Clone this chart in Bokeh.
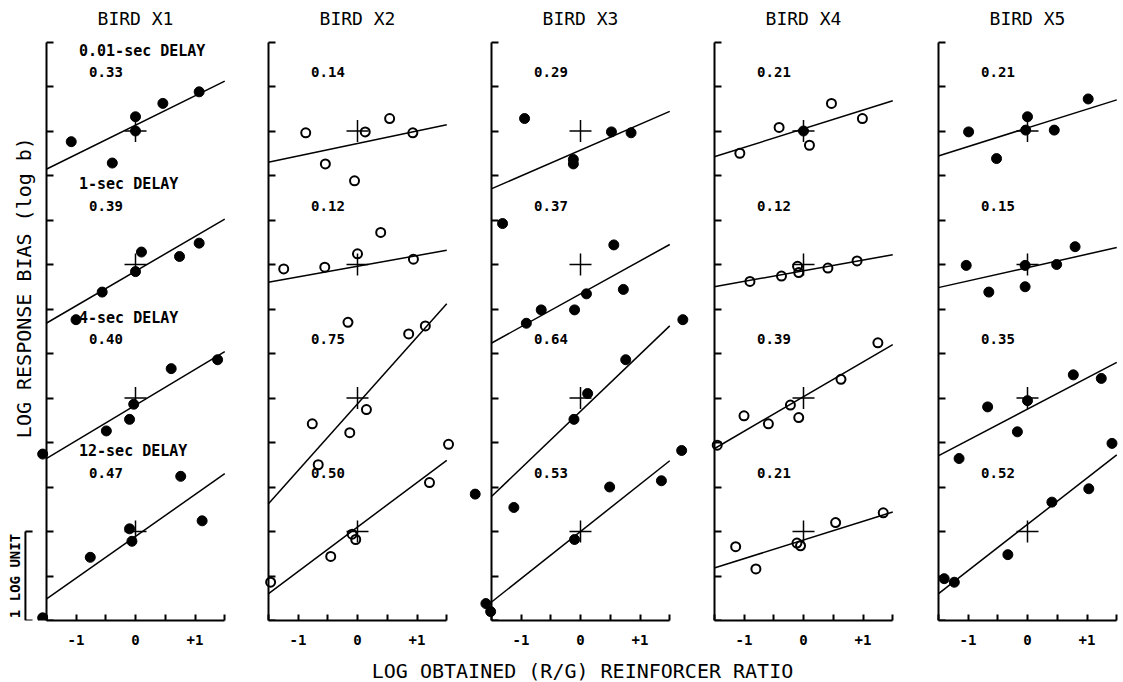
from bokeh.plotting import figure
from bokeh.layouts import row, column
from bokeh.models import LinearAxis, FixedTicker, Label, Range1d, CustomJSTickFormatter
from bokeh.embed import file_html
from bokeh.resources import INLINE

# ---------------- data ----------------
birds = ["BIRD X1", "BIRD X2", "BIRD X3", "BIRD X4", "BIRD X5"]
delays = ["0.01-sec DELAY", "1-sec DELAY", "4-sec DELAY", "12-sec DELAY"]
offsets = [4.5, 3.0, 1.5, 0.0]          # vertical displacement of each delay condition
filled = [True, False, True, False, True]

slopes_x1 = [0.33, 0.39, 0.40, 0.47]
slopes_x2 = [0.14, 0.12, 0.75, 0.50]
slopes_x3 = [0.29, 0.37, 0.64, 0.53]
slopes_x4 = [0.21, 0.12, 0.39, 0.21]
slopes_x5 = [0.21, 0.15, 0.35, 0.52]

icpt_x1 = [0.065, -0.075, -0.08, -0.055]
icpt_x2 = [-0.14, -0.02, -0.065, 0.05]
icpt_x3 = [-0.215, -0.33, -0.15, 0.0]
icpt_x4 = [0.025, -0.07, 0.015, -0.095]
icpt_x5 = [0.035, -0.035, -0.125, 0.08]

x1_x = [[-1.08, -0.39, 0.00, 0.00, 0.46, 1.07],
        [-1.00, -0.56, 0.00, 0.10, 0.74, 1.07],
        [-1.56, -0.49, -0.10, -0.03, 0.60, 1.38],
        [-1.56, -0.76, -0.10, -0.06, 0.76, 1.12]]
x1_y = [[-0.12, -0.36, 0.16, 0.00, 0.31, 0.44],
        [-0.62, -0.31, -0.08, 0.14, 0.09, 0.24],
        [-0.63, -0.37, -0.24, -0.07, 0.33, 0.43],
        [-0.97, -0.29, 0.03, -0.11, 0.62, 0.12]]

x2_x = [[-0.87, -0.54, -0.05, 0.13, 0.54, 0.93],
        [-1.24, -0.55, 0.00, 0.39, 0.94],
        [-0.76, -0.66, -0.16, -0.13, 0.15, 0.86, 1.14],
        [-1.46, -0.45, -0.09, -0.03, 1.21, 1.53]]
x2_y = [[-0.02, -0.37, -0.56, -0.01, 0.14, -0.02],
        [-0.05, -0.03, 0.12, 0.36, 0.06],
        [-0.29, -0.75, 0.85, -0.39, -0.13, 0.72, 0.81],
        [-0.57, -0.28, -0.03, -0.09, 0.55, 0.98]]

x3_x = [[-0.94, -0.12, -0.12, 0.52, 0.85],
        [-1.31, -0.91, -0.66, -0.10, 0.10, 0.56, 0.72],
        [-1.77, -1.12, -0.11, 0.12, 0.76, 1.72],
        [-1.59, -1.51, -0.10, 0.49, 1.36, 1.70]]
x3_y = [[0.14, -0.32, -0.37, -0.01, -0.02],
        [0.46, -0.66, -0.51, -0.51, -0.33, 0.22, -0.28],
        [-1.08, -1.23, -0.24, 0.05, 0.43, 0.88],
        [-0.81, -0.90, -0.09, 0.50, 0.57, 0.91]]

x4_x = [[-1.07, -0.41, 0.00, 0.10, 0.47, 0.99],
        [-0.90, -0.37, -0.10, -0.08, 0.41, 0.90],
        [-1.45, -1.00, -0.59, -0.22, -0.08, 0.63, 1.25],
        [-1.14, -0.80, -0.11, -0.05, 0.54, 1.34]]
x4_y = [[-0.25, 0.04, 0.00, -0.16, 0.31, 0.14],
        [-0.19, -0.13, -0.02, -0.09, -0.04, 0.04],
        [-0.53, -0.20, -0.29, -0.08, -0.22, 0.21, 0.62],
        [-0.17, -0.42, -0.13, -0.16, 0.10, 0.21]]
x4_solid = [(0, 2)]   # (condition, point) drawn as a filled dot in bird X4

x5_x = [[-0.99, -0.52, -0.03, 0.00, 0.45, 1.02],
        [-1.03, -0.65, -0.04, -0.04, 0.49, 0.80],
        [-1.15, -0.67, -0.17, 0.00, 0.77, 1.24],
        [-1.40, -1.23, -0.33, 0.41, 1.03, 1.42]]
x5_y = [[-0.01, -0.31, 0.01, 0.16, 0.01, 0.36],
        [-0.01, -0.31, -0.01, -0.25, 0.00, 0.20],
        [-0.68, -0.10, -0.38, -0.03, 0.26, 0.22],
        [-0.53, -0.57, -0.26, 0.33, 0.48, 0.99]]

xtick_major = [-1.0, 0.0, 1.0]
xtick_minor = [-1.5, -0.5, 0.5, 1.5]
ytick_vals = [-1.0 + 0.5 * k for k in range(14)]
x_title = "LOG OBTAINED (R/G) REINFORCER RATIO"
y_title = "LOG RESPONSE BIAS (log b)"

all_x = [x1_x, x2_x, x3_x, x4_x, x5_x]
all_y = [x1_y, x2_y, x3_y, x4_y, x5_y]
all_slopes = [slopes_x1, slopes_x2, slopes_x3, slopes_x4, slopes_x5]
all_icpt = [icpt_x1, icpt_x2, icpt_x3, icpt_x4, icpt_x5]

# ---------------- layout ----------------
FONT = "DejaVu Sans Mono"
SCALE_X = 59.5                     # px per x unit
SCALE_Y = 89.0                     # px per log unit
FRAME_H = 620
frame_w = [245, 220, 221, 221, 206]
b_left = [0, 1, 1, 1, 1]
b_right = [1, 1, 1, 1, 0]
zero_in_frame = [135, 110, 111, 111, 112]
Y0 = -1.0
Y1 = Y0 + FRAME_H / SCALE_Y
TITLE_Y = Y1 - 17.5 / SCALE_Y

panels = []
for i in range(5):
    fw = frame_w[i]
    xs0 = -zero_in_frame[i] / SCALE_X
    xs1 = (fw - zero_in_frame[i]) / SCALE_X
    p = figure(frame_width=fw, frame_height=FRAME_H, x_range=Range1d(xs0, xs1),
               y_range=Range1d(Y0, Y1), output_backend="svg",
               toolbar_location=None, x_axis_type=None, y_axis_type=None,
               min_border_left=b_left[i], min_border_right=b_right[i],
               min_border_top=0, min_border_bottom=36)
    p.outline_line_color = None
    p.background_fill_color = "white"
    p.border_fill_color = "white"

    # panel heading
    p.add_layout(Label(x=0.0, y=TITLE_Y, text=birds[i], text_font=FONT,
                       text_font_size="18px", text_align="center",
                       text_baseline="middle", text_color="black"))

    yax = LinearAxis(fixed_location=-1.5, bounds=(-1.0, 5.5),
                     ticker=FixedTicker(ticks=ytick_vals),
                     formatter=CustomJSTickFormatter(code="return ''"),
                     major_tick_in=7, major_tick_out=0,
                     minor_tick_in=0, minor_tick_out=0,
                     major_label_standoff=0,
                     axis_line_width=2, major_tick_line_width=2,
                     axis_line_color="black", major_tick_line_color="black")
    p.add_layout(yax, "left")
    xax = LinearAxis(bounds=(-1.5, 1.5),
                     ticker=FixedTicker(ticks=xtick_major, minor_ticks=xtick_minor),
                     formatter=CustomJSTickFormatter(
                         code="return tick > 0 ? '+' + tick.toFixed(0) : tick.toFixed(0)"),
                     major_tick_in=6, major_tick_out=0,
                     minor_tick_in=6, minor_tick_out=0,
                     major_label_standoff=14,
                     major_label_text_font=FONT,
                     major_label_text_font_size="14px",
                     major_label_text_font_style="bold",
                     major_label_text_color="black",
                     axis_line_width=2, major_tick_line_width=2,
                     minor_tick_line_width=2,
                     axis_line_color="black", major_tick_line_color="black",
                     minor_tick_line_color="black")
    p.add_layout(xax, "below")

    for c in range(4):
        off = offsets[c]
        s = all_slopes[i][c]
        b = all_icpt[i][c]
        # regression line over the obtained-ratio span
        p.line([-1.5, 1.5], [off + b - 1.5 * s, off + b + 1.5 * s],
               line_color="black", line_width=1.5)
        # origin cross
        p.scatter([0], [off], marker="cross", size=22,
                  line_color="black", line_width=1.5)
        xs = all_x[i][c]
        ys = [v + off for v in all_y[i][c]]
        if filled[i]:
            p.scatter(xs, ys, marker="circle", size=10,
                      fill_color="black", line_color="black", line_width=1)
        else:
            keep = [k for k in range(len(xs)) if not (i == 3 and (c, k) in x4_solid)]
            p.scatter([xs[k] for k in keep], [ys[k] for k in keep], marker="circle",
                      size=9, fill_color=None, line_color="black", line_width=2)
            if i == 3:
                solid = [k for (cc, k) in x4_solid if cc == c]
                if solid:
                    p.scatter([xs[k] for k in solid], [ys[k] for k in solid],
                              marker="circle", size=10,
                              fill_color="black", line_color="black")
        # slope value
        p.add_layout(Label(x=-0.78, y=off + 0.66, text=f"{s:.2f}",
                           text_font=FONT, text_font_size="14px",
                           text_font_style="bold", text_align="left",
                           text_baseline="middle", text_color="black"))
        if i == 0:
            p.add_layout(Label(x=-0.95, y=off + 0.9, text=delays[c],
                               text_font=FONT, text_font_size="15px",
                               text_font_style="bold", text_align="left",
                               text_baseline="middle", text_color="black"))
    panels.append(p)

# y-axis title and 1 log-unit scale bar on the first panel
p1 = panels[0]
p1.add_layout(Label(x=-1.88, y=2.74, text=y_title,
                    angle=90, angle_units="deg", text_font=FONT,
                    text_font_size="20px", text_align="center",
                    text_baseline="middle", text_color="black"))
p1.add_layout(Label(x=-2.02, y=-0.5, text="1 LOG UNIT",
                    angle=90, angle_units="deg", text_font=FONT,
                    text_font_size="14px", text_font_style="bold",
                    text_align="center", text_baseline="middle",
                    text_color="black"))
bar_x, bar_tick = -1.85, 0.12
p1.segment(x0=[bar_x, bar_x, bar_x], y0=[-1.0, 0.0, -1.0],
           x1=[bar_x, bar_x + bar_tick, bar_x + bar_tick], y1=[0.0, 0.0, -1.0],
           line_color="black", line_width=2)

# strip below the panels carrying the common x-axis title
total_w = sum(frame_w) + sum(b_left) + sum(b_right)
strip = figure(width=total_w, height=26, x_range=Range1d(0, total_w),
               y_range=Range1d(0, 26), output_backend="svg",
               toolbar_location=None, x_axis_type=None, y_axis_type=None,
               min_border=0)
strip.outline_line_color = None
strip.grid.visible = False
strip.add_layout(Label(x=582, y=12, text=x_title, text_font=FONT,
                       text_font_size="20px", text_align="center",
                       text_baseline="middle", text_color="black"))

layout = column(row(*panels), strip)
open("out.html", "w").write(file_html(layout, INLINE))
